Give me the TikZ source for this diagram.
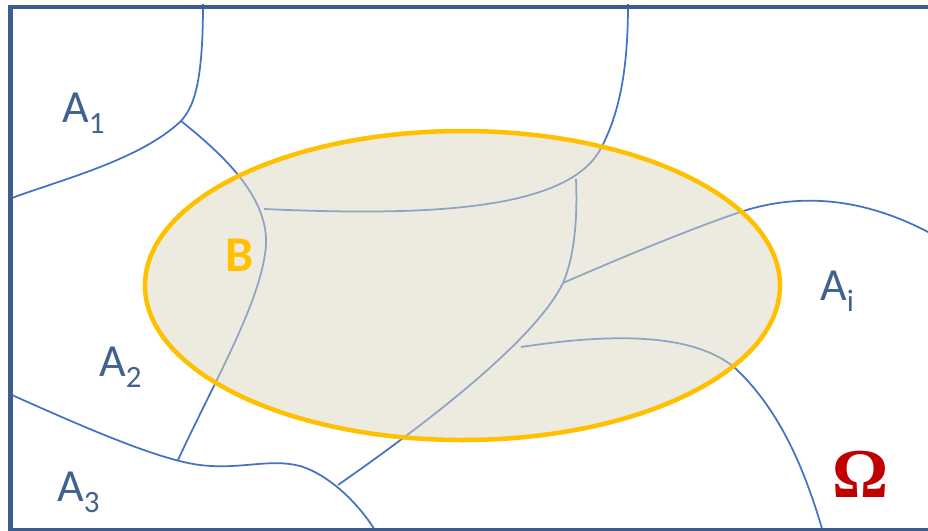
\documentclass[tikz,border=0pt]{standalone}
\usepackage{fontspec}
\setmainfont{Carlito}
\newfontfamily\omegafont{Liberation Serif}
\usetikzlibrary{positioning}

\definecolor{framecol}{RGB}{61,94,140}
\definecolor{partcol}{RGB}{68,114,196}
\definecolor{labelcol}{RGB}{65,98,143}
\definecolor{bcol}{RGB}{255,192,0}
\definecolor{bfill}{RGB}{219,215,193}
\definecolor{omegacol}{RGB}{192,0,0}

\newcommand{\subidx}[1]{\raisebox{-11pt}{\fontsize{31}{31}\selectfont #1}}

\tikzset{
    part/.style={draw=partcol, line width=1.75pt},
    setlabel/.style={anchor=base west, inner sep=0pt, text=labelcol, font=\fontsize{46}{46}\selectfont},
}

\begin{document}
\begin{tikzpicture}[x=1pt, y=-1pt]

        \useasboundingbox (0,0) rectangle (928,530);
        \clip (0,0) rectangle (928,530);

        % partition of Omega
        \coordinate (j1) at (181,121);
        \coordinate (j2) at (563,283);
        \draw[part] (203,4) .. controls (203,90) and (192,108) .. (j1)
            .. controls (140,160) and (60,180) .. (12,198);
        \draw[part] (j1) .. controls (230,160) and (268,200) .. (266,245)
            .. controls (262,300) and (215,380) .. (178,460);
        \draw[part] (264,209) .. controls (420,216) and (565,212) .. (600,150)
            .. controls (622,110) and (628,60) .. (628,4);
        \draw[part] (576,179) .. controls (578,230) and (572,262) .. (j2)
            .. controls (540,330) and (460,400) .. (338,485);
        \draw[part] (j2) .. controls (650,245) and (720,218) .. (750,209)
            .. controls (800,195) and (860,196) .. (930,233);
        \draw[part] (521,347) .. controls (600,335) and (690,330) .. (735,368)
            .. controls (780,410) and (805,470) .. (823,532);
        \draw[part] (12,395) .. controls (90,430) and (160,460) .. (200,465)
            .. controls (240,470) and (270,458) .. (300,466)
            .. controls (330,475) and (360,505) .. (376,532);

        % event B
        \fill[bfill, fill opacity=0.5] (462.5,285.5) ellipse [x radius=317.5, y radius=154.5];
        \draw[bcol, line width=4.5pt] (462.5,285.5) ellipse [x radius=317.5, y radius=154.5];

        % frame
        \draw[framecol, line width=4.5pt] (10.5,7) rectangle (945,530.5);

        % labels
        \node[setlabel] (a1) at (62,122) {A\subidx{1}};
        \node[setlabel] (a2) at (99,376) {A\subidx{2}};
        \node[setlabel] (a3) at (57,501) {A\subidx{3}};
        \node[setlabel] (ai) at (820,300) {A\subidx{i}};
        \node[anchor=base west, inner sep=0pt, text=bcol, font=\fontsize{50}{50}\selectfont\bfseries] (b) at (225,271) {B};
        \node[anchor=base west, inner sep=0pt, text=omegacol, font=\omegafont\fontsize{70}{70}\selectfont\bfseries] (omega) at (832,497) {Ω};

\end{tikzpicture}
\end{document}
